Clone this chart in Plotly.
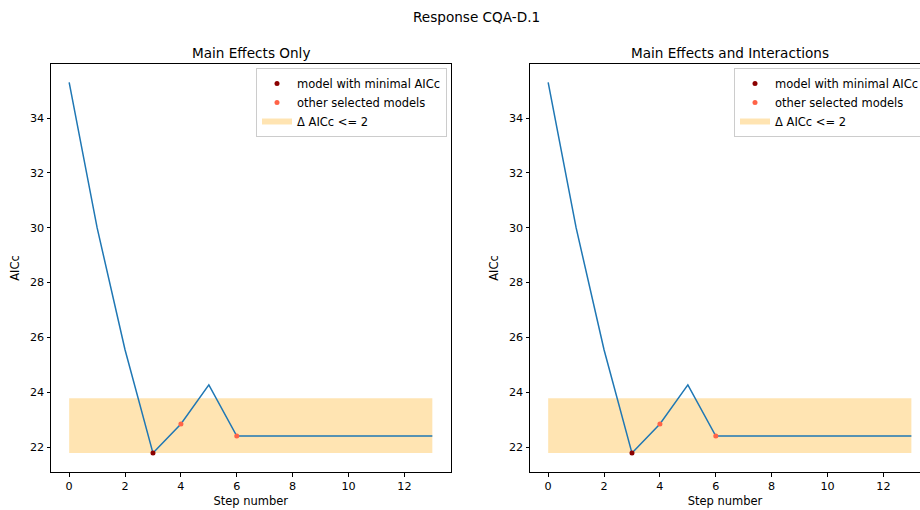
import plotly.graph_objects as go

# ---- data ----
steps = list(range(14))
aicc_main = [35.30, 30.00, 25.55, 21.78, 22.84, 24.27, 22.40, 22.40, 22.40, 22.40, 22.40, 22.40, 22.40, 22.40]
aicc_inter = [35.30, 30.00, 25.55, 21.78, 22.84, 24.27, 22.40, 22.40, 22.40, 22.40, 22.40, 22.40, 22.40, 22.40]
min_step = 3
other_steps = [4, 6]
band_low = 21.78
band_high = 23.78
panel_titles = ["Main Effects Only", "Main Effects and Interactions"]
suptitle = "Response CQA-D.1"

W, H = 920, 510
FONT = "DejaVu Sans"
TICK_FS = 11.2
LABEL_FS = 11.5
TITLE_FS = 13.6

fig = go.Figure()

def add_panel(values, legend, idx):
    xref = "x" if idx == 0 else "x2"
    yref = "y" if idx == 0 else "y2"
    # band
    fig.add_trace(go.Scatter(
        x=[steps[0], steps[-1], steps[-1], steps[0], steps[0]],
        y=[band_low, band_low, band_high, band_high, band_low],
        fill="toself", fillcolor="rgba(255,165,0,0.3)",
        mode="none", name="Δ AICc <= 2",
        xaxis=xref, yaxis=yref, legend=legend, legendrank=3,
    ))
    # line
    fig.add_trace(go.Scatter(
        x=steps, y=values, mode="lines",
        line=dict(color="#1f77b4", width=1.5),
        showlegend=False, xaxis=xref, yaxis=yref, legend=legend,
    ))
    # other selected
    fig.add_trace(go.Scatter(
        x=other_steps, y=[values[s] for s in other_steps], mode="markers",
        marker=dict(color="tomato", size=5),
        name="other selected models", xaxis=xref, yaxis=yref, legend=legend, legendrank=2,
    ))
    # min
    fig.add_trace(go.Scatter(
        x=[min_step], y=[values[min_step]], mode="markers",
        marker=dict(color="darkred", size=5),
        name="model with minimal AICc", xaxis=xref, yaxis=yref, legend=legend, legendrank=1,
    ))

add_panel(aicc_main, "legend", 0)
add_panel(aicc_inter, "legend2", 1)

ydom = [1 - 472 / H, 1 - 64 / H]
axis_common = dict(
    showgrid=False, zeroline=False, showline=True, linecolor="black", linewidth=1,
    ticks="outside", ticklen=3.5, tickwidth=1, tickcolor="black",
    tickfont=dict(family=FONT, size=TICK_FS, color="black"),
)
yrange = [21.09, 35.97]
xt = dict(text="Step number", standoff=5, font=dict(family=FONT, size=LABEL_FS, color="black"))
yt = dict(text="AICc", standoff=7, font=dict(family=FONT, size=LABEL_FS, color="black"))
legend_common = dict(
    y=1 - 68 / H, yanchor="top", xref="paper", yref="paper",
    bgcolor="rgba(255,255,255,0.8)", bordercolor="#cccccc", borderwidth=1,
    font=dict(family=FONT, size=LABEL_FS, color="black"), tracegroupgap=0,
)
fig.update_layout(
    width=W, height=H,
    margin=dict(l=0, r=0, t=0, b=0, autoexpand=False),
    paper_bgcolor="white", plot_bgcolor="white",
    font=dict(family=FONT, size=LABEL_FS, color="black"),
    xaxis=dict(domain=[51 / W, 450.5 / W], range=[-0.65, 13.65], tickvals=list(range(0, 13, 2)),
               mirror=True, anchor="y", title=xt, **axis_common),
    yaxis=dict(domain=ydom, range=yrange, tickvals=list(range(22, 35, 2)), mirror=True, anchor="x",
               title=yt, **axis_common),
    xaxis2=dict(domain=[530 / W, 1.0], range=[-0.65, -0.65 + 390 / 27.94], tickvals=list(range(0, 13, 2)),
                mirror=True, anchor="y2", title=xt, **axis_common),
    yaxis2=dict(domain=ydom, range=yrange, tickvals=list(range(22, 35, 2)), mirror=False, anchor="x2",
                title=yt, **axis_common),
    legend=dict(x=256 / W, xanchor="left", **legend_common),
    legend2=dict(x=734 / W, xanchor="left", **legend_common),
    annotations=[
        dict(text=suptitle, x=476 / W, y=1 - 17 / H, xref="paper", yref="paper", showarrow=False,
             xanchor="center", yanchor="middle", font=dict(family=FONT, size=TITLE_FS, color="black")),
        dict(text=panel_titles[0], x=250.5 / W, y=1 - 53 / H, xref="paper", yref="paper", showarrow=False,
             xanchor="center", yanchor="middle", font=dict(family=FONT, size=TITLE_FS, color="black")),
        dict(text=panel_titles[1], x=729.5 / W, y=1 - 53 / H, xref="paper", yref="paper", showarrow=False,
             xanchor="center", yanchor="middle", font=dict(family=FONT, size=TITLE_FS, color="black")),
    ],
    showlegend=True,
)

fig.write_html("out.html")
